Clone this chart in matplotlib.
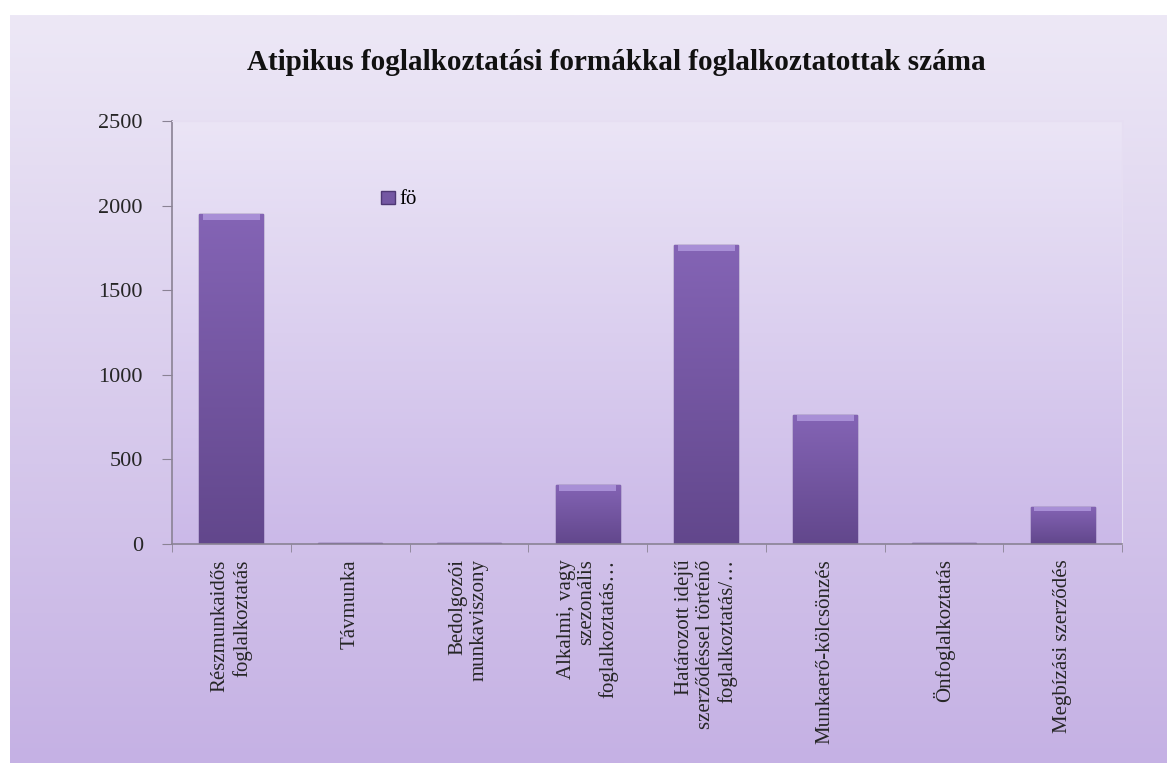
import numpy as np
import matplotlib.pyplot as plt
from matplotlib.colors import LinearSegmentedColormap

# data
categories = [
    "Részmunkaidős\nfoglalkoztatás",
    "Távmunka",
    "Bedolgozói\nmunkaviszony",
    "Alkalmi, vagy\nszezonális\nfoglalkoztatás…",
    "Határozott idejű\nszerződéssel történő\nfoglalkoztatás/…",
    "Munkaerő-kölcsönzés",
    "Önfoglalkoztatás",
    "Megbízási szerződés",
]
values = [1950, 8, 5, 350, 1765, 760, 8, 220]
series_name = "fö"
title = "Atipikus foglalkoztatási formákkal foglalkoztatottak száma"
y_ticks = [0, 500, 1000, 1500, 2000, 2500]

plt.rcParams['font.family'] = ['Liberation Serif', 'DejaVu Serif']

W, H = 1167, 763
fig = plt.figure(figsize=(W / 100, H / 100), dpi=100)
fig.patch.set_facecolor('white')

# background chart box with vertical gradient
bg = fig.add_axes([0, 0, 1, 1])
bg.set_xlim(0, 1)
bg.set_ylim(0, 1)
bg.axis('off')
bg_cmap = LinearSegmentedColormap.from_list('bg', ['#c5b1e4', '#ede8f6'])
grad = np.linspace(0, 1, 256).reshape(-1, 1)
bg.imshow(grad, cmap=bg_cmap, origin='lower', aspect='auto',
          extent=(10 / W, 1, 0, 1 - 15 / H), zorder=0)

# plot area
x0, x1, y0, y1 = 172, 1122, 544, 121
ax = fig.add_axes([x0 / W, (H - y0) / H, (x1 - x0) / W, (y0 - y1) / H])
ax.set_facecolor('none')
x = np.arange(len(categories))

pa_cmap = LinearSegmentedColormap.from_list('pa', ['#cbb9e8', '#ebe5f6'])
ax.imshow(grad, cmap=pa_cmap, origin='lower', aspect='auto',
          extent=(-0.5, len(categories) - 0.5, 0, 2500), zorder=0)

bar_cmap = LinearSegmentedColormap.from_list('bar', ['#62478c', '#8464b5'])
bars = ax.bar(x, values, width=0.54, color='#7457a3', edgecolor='#4e3874',
              linewidth=1.0, zorder=2)
for b in bars:
    im = ax.imshow(grad, cmap=bar_cmap, origin='lower', aspect='auto',
                   extent=(b.get_x(), b.get_x() + b.get_width(), 0, b.get_height()),
                   zorder=2.5)
    im.set_clip_path(b)
# lighter bevel on the top of each bar
bevel = [min(35, v * 0.12) for v in values]
ax.bar(x, bevel, bottom=np.array(values) - np.array(bevel), width=0.48,
       color='#a88fd6', linewidth=0, zorder=3)
ax.set_xlim(-0.5, len(categories) - 0.5)
ax.set_ylim(0, 2500)

# axes styling
for s in ['top', 'right']:
    ax.spines[s].set_color('#e6def2')
for s in ['left', 'bottom']:
    ax.spines[s].set_color('#8a8294')
    ax.spines[s].set_linewidth(1.2)

ax.set_yticks(y_ticks)
ax.tick_params(axis='y', length=7, color='#8a8294', pad=14, labelsize=16,
               labelcolor='#262626')

ax.set_xticks(x)
ax.set_xticklabels(categories, rotation=90, va='top', ha='center',
                   multialignment='right', fontsize=15, color='#262626',
                   linespacing=1.15)
ax.set_xticks(np.arange(-0.5, len(categories)), minor=True)
ax.tick_params(axis='x', which='major', length=0, pad=11)
ax.tick_params(axis='x', which='minor', length=6, color='#8a8294')

ax.legend([bars[0]], [series_name], loc='center left', frameon=False,
          bbox_to_anchor=(362 / W, 1 - 200 / H), bbox_transform=fig.transFigure,
          fontsize=15, handlelength=0.7, handleheight=0.6, handletextpad=0.2)

fig.text(616 / W, 1 - 62 / H, title, ha='center', va='center',
         fontsize=21, fontweight='bold', color='#111111')

plt.savefig('out.png', dpi=100)
